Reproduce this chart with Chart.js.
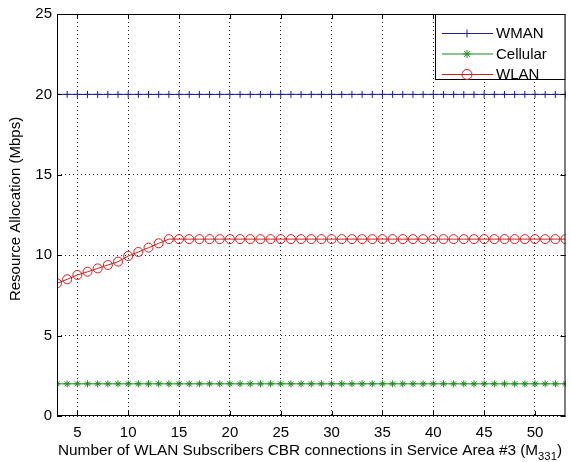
<!DOCTYPE html>
<html>
<head>
<meta charset="utf-8">
<script src="https://cdn.jsdelivr.net/npm/chart.js@4"></script>
<style>
  html, body { margin: 0; padding: 0; background: #fff; }
  #wrap { width: 571px; height: 462px; }
</style>
</head>
<body>
<div id="wrap"><canvas id="resourceChart" width="571" height="462"></canvas></div>
<script>
var xValues = [3, 4, 5, 6, 7, 8, 9, 10, 11, 12, 13, 14, 15, 16, 17, 18, 19, 20, 21, 22, 23, 24, 25, 26, 27, 28,
    29, 30, 31, 32, 33, 34, 35, 36, 37, 38, 39, 40, 41, 42, 43, 44, 45, 46, 47, 48, 49, 50, 51, 52, 53];
var wmanValues = [20, 20, 20, 20, 20, 20, 20, 20, 20, 20, 20, 20, 20, 20, 20, 20, 20, 20, 20, 20, 20, 20, 20, 20, 20, 20,
    20, 20, 20, 20, 20, 20, 20, 20, 20, 20, 20, 20, 20, 20, 20, 20, 20, 20, 20, 20, 20, 20, 20, 20, 20];
var cellularValues = [2, 2, 2, 2, 2, 2, 2, 2, 2, 2, 2, 2, 2, 2, 2, 2, 2, 2, 2, 2, 2, 2, 2, 2, 2, 2,
    2, 2, 2, 2, 2, 2, 2, 2, 2, 2, 2, 2, 2, 2, 2, 2, 2, 2, 2, 2, 2, 2, 2, 2, 2];
var wlanValues = [8.25, 8.5, 8.77, 8.97, 9.18, 9.39, 9.6, 9.95, 10.2, 10.47, 10.74, 11, 11, 11, 11, 11, 11, 11, 11, 11, 11, 11, 11, 11, 11, 11,
    11, 11, 11, 11, 11, 11, 11, 11, 11, 11, 11, 11, 11, 11, 11, 11, 11, 11, 11, 11, 11, 11, 11, 11, 11];
var xTicks = [5, 10, 15, 20, 25, 30, 35, 40, 45, 50];
var yTicks = [0, 5, 10, 15, 20, 25];
var seriesNames = ['WMAN', 'Cellular', 'WLAN'];
var xTitle = 'Number of WLAN Subscribers CBR connections in Service Area #3 (M';
var xTitleSub = '331';
var yTitle = 'Resource Allocation (Mbps)';

var FONT = '"Liberation Sans", Arial, sans-serif';

function toPoints(values) {
    return values.map(function (v, i) { return { x: xValues[i], y: v }; });
}

function makeDataset(label, values, color, style, radius) {
    return {
        label: label,
        data: toPoints(values),
        borderColor: color,
        backgroundColor: color,
        borderWidth: 1,
        pointStyle: style,
        pointRadius: radius,
        pointBorderColor: color,
        pointBackgroundColor: 'rgba(0,0,0,0)',
        pointBorderWidth: 1,
        tension: 0
    };
}

// draws box, inward ticks, titles and the MATLAB-like legend
var matlabFrame = {
    id: 'matlabFrame',
    afterDraw: function (chart) {
        var ctx = chart.ctx;
        var a = chart.chartArea;
        var xs = chart.scales.x;
        var ys = chart.scales.y;
        ctx.save();
        ctx.strokeStyle = '#000';
        ctx.lineWidth = 1;
        ctx.setLineDash([]);
        ctx.strokeRect(a.left + 0.5, a.top + 0.5, a.right - a.left - 1, a.bottom - a.top - 1);

        ctx.beginPath();
        xTicks.forEach(function (v) {
            var px = Math.round(xs.getPixelForValue(v)) + 0.5;
            ctx.moveTo(px, a.bottom); ctx.lineTo(px, a.bottom - 5);
            ctx.moveTo(px, a.top); ctx.lineTo(px, a.top + 5);
        });
        yTicks.forEach(function (v) {
            var py = Math.round(ys.getPixelForValue(v)) + 0.5;
            ctx.moveTo(a.left, py); ctx.lineTo(a.left + 5, py);
            ctx.moveTo(a.right, py); ctx.lineTo(a.right - 5, py);
        });
        ctx.stroke();

        // axis titles
        ctx.fillStyle = '#000';
        ctx.textBaseline = 'alphabetic';
        ctx.textAlign = 'left';
        ctx.font = '15px ' + FONT;
        var mainW = ctx.measureText(xTitle).width;
        var closeW = ctx.measureText(')').width;
        ctx.font = '11px ' + FONT;
        var subW = ctx.measureText(xTitleSub).width;
        var total = mainW + subW + closeW;
        var sx = 504 / total;
        ctx.save();
        ctx.translate(58, 0);
        ctx.scale(sx, 1);
        ctx.font = '15px ' + FONT;
        ctx.fillText(xTitle, 0, 455);
        ctx.fillText(')', mainW + subW, 455);
        ctx.font = '11px ' + FONT;
        ctx.fillText(xTitleSub, mainW, 460);
        ctx.restore();

        ctx.save();
        ctx.translate(20, 209);
        ctx.rotate(-Math.PI / 2);
        ctx.textAlign = 'center';
        ctx.font = '15px ' + FONT;
        ctx.fillText(yTitle, 0, 0);
        ctx.restore();

        // legend
        var bx = 435, by = a.top, bw = a.right - bx, bh = 66;
        ctx.fillStyle = '#fff';
        ctx.fillRect(bx, by, bw, bh);
        ctx.strokeStyle = '#000';
        ctx.strokeRect(bx + 0.5, by + 0.5, bw - 1, bh - 1);
        ctx.font = '15px ' + FONT;
        ctx.textBaseline = 'middle';
        chart.data.datasets.forEach(function (ds, i) {
            var ly = by + 19 + i * 20.5;
            ctx.strokeStyle = ds.borderColor;
            ctx.lineWidth = 1;
            ctx.beginPath();
            ctx.moveTo(442, ly + 0.5);
            ctx.lineTo(493, ly + 0.5);
            ctx.stroke();
            ctx.fillStyle = 'rgba(0,0,0,0)';
            Chart.helpers.drawPoint(ctx, {
                pointStyle: ds.pointStyle,
                radius: ds.pointRadius + 0.5,
                borderWidth: 1,
                rotation: 0
            }, 467, ly + 0.5);
            ctx.fillStyle = '#000';
            ctx.fillText(seriesNames[i], 496, ly + 1);
        });
        ctx.restore();
    }
};

var ctx = document.getElementById('resourceChart').getContext('2d');
var chart = new Chart(ctx, {
    type: 'line',
    data: {
        datasets: [
            makeDataset(seriesNames[0], wmanValues, '#1f1f96', 'cross', 3.5),
            makeDataset(seriesNames[1], cellularValues, '#1c8a1c', 'star', 3.5),
            makeDataset(seriesNames[2], wlanValues, '#cc2222', 'circle', 4.5)
        ]
    },
    options: {
        responsive: false,
        animation: false,
        layout: { padding: { top: 14, right: 2, left: 0, bottom: 0 } },
        plugins: {
            legend: { display: false },
            tooltip: { enabled: false }
        },
        scales: {
            x: {
                type: 'linear',
                min: 3,
                max: 53,
                afterBuildTicks: function (scale) {
                    scale.ticks = xTicks.map(function (v) { return { value: v }; });
                },
                afterFit: function (scale) { scale.height = 46; },
                grid: {
                    color: '#222',
                    lineWidth: 1,
                    drawTicks: false
                },
                border: { display: false, dash: [1, 3] },
                ticks: {
                    padding: 8,
                    color: '#000',
                    maxRotation: 0,
                    autoSkip: false,
                    font: { family: FONT, size: 15 }
                }
            },
            y: {
                min: 0,
                max: 25,
                afterBuildTicks: function (scale) {
                    scale.ticks = yTicks.map(function (v) { return { value: v }; });
                },
                afterFit: function (scale) { scale.width = 57; },
                grid: {
                    color: '#222',
                    lineWidth: 1,
                    drawTicks: false
                },
                border: { display: false, dash: [1, 3] },
                ticks: {
                    padding: 5,
                    color: '#000',
                    font: { family: FONT, size: 15 }
                }
            }
        }
    },
    plugins: [matlabFrame]
});
</script>
</body>
</html>
